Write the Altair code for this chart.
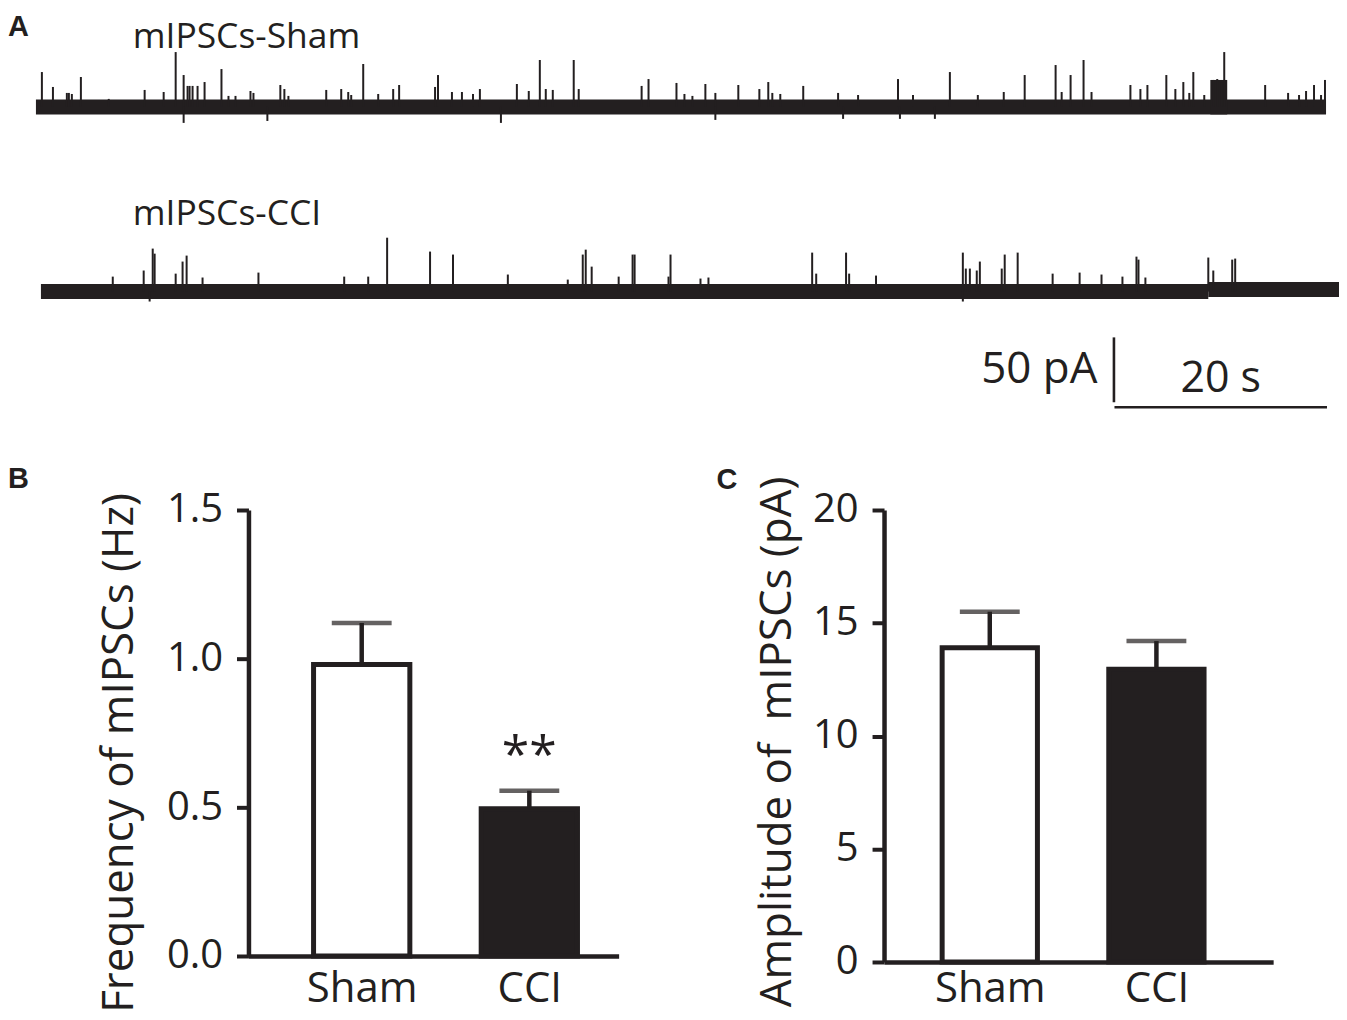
import altair as alt
import pandas as pd

DARK = "#231f20"
FONT = "Open Sans"
LETTER_FONT = "Liberation Sans"

# ---------------- Panel A: trace data (time in s, amplitude in pA) ----------------
# upward events (time s, peak amplitude pA above baseline)
sham_events = [
    (0.56, 26.9), (1.60, 15.4), (2.91, 10.8), (3.10, 10.8), (3.38, 10.0), (4.23, 23.1),
    (6.85, 6.2), (10.23, 13.1), (12.02, 11.5), (13.15, 42.3), (13.90, 24.6), (14.27, 16.2),
    (14.46, 16.2), (14.74, 16.2), (15.21, 16.2), (15.87, 19.2), (17.46, 29.2), (18.12, 8.5),
    (18.78, 8.5), (20.19, 12.3), (20.47, 10.8), (23.00, 16.9), (23.38, 13.8), (23.76, 8.5),
    (27.32, 13.1), (28.73, 13.8), (29.39, 11.5), (29.67, 9.2), (30.80, 33.1), (32.21, 10.0),
    (33.62, 13.8), (34.18, 16.9), (37.56, 15.4), (37.84, 24.6), (39.15, 11.5), (40.09, 11.5),
    (41.13, 10.0), (41.78, 13.8), (45.26, 17.7), (46.38, 12.3), (47.42, 36.2), (47.98, 13.8),
    (48.64, 13.1), (50.61, 36.2), (51.08, 13.8), (57.00, 16.2), (57.65, 21.5), (60.28, 18.5),
    (61.03, 10.0), (61.78, 8.5), (63.00, 17.7), (63.94, 10.8), (66.10, 16.9), (68.08, 13.8),
    (68.92, 19.2), (69.30, 10.8), (70.05, 10.0), (72.21, 16.2), (75.49, 10.8), (77.37, 9.2),
    (81.13, 21.5), (82.54, 9.2), (86.01, 26.9), (88.64, 9.2), (91.08, 11.5), (93.05, 24.6),
    (95.96, 32.3), (96.53, 11.5), (97.37, 24.6), (98.59, 36.2), (99.34, 11.5), (103.00, 16.9),
    (103.94, 13.8), (104.60, 16.9), (106.38, 24.6), (107.23, 13.8), (107.98, 19.2), (108.54, 10.8),
    (108.92, 26.9), (109.95, 9.2), (110.80, 20.8), (111.17, 21.5), (111.55, 19.2), (111.83, 42.3),
    (115.68, 16.9), (117.84, 10.8), (118.87, 9.2), (119.53, 12.3), (120.28, 16.9), (120.94, 9.2),
    (121.31, 20.8),
]
# downward deflections (time s, amplitude pA)
sham_dips = [(13.90, -12.3), (21.78, -10.8), (43.76, -12.3), (63.94, -10.0),
             (75.96, -9.2), (81.31, -9.2), (84.60, -9.2)]
sham_span = (0.0, 121.41)
sham_burst = (110.52, 112.11, 20.8)   # start s, end s, upper envelope pA

cci_events = [
    (7.23, 11.5), (10.14, 16.2), (10.99, 33.1), (11.17, 29.2), (13.15, 13.8), (13.80, 23.1),
    (14.18, 27.7), (15.68, 10.8), (20.94, 14.6), (29.01, 11.5), (31.27, 11.5), (33.05, 41.5),
    (37.09, 30.8), (39.25, 28.5), (44.41, 13.1), (50.05, 9.2), (51.46, 28.5), (51.74, 32.3),
    (52.30, 19.2), (54.84, 11.5), (56.15, 28.5), (56.34, 28.5), (59.53, 11.5), (59.72, 28.5),
    (62.54, 10.0), (63.29, 10.8), (73.05, 30.0), (73.43, 13.8), (76.24, 30.0), (76.53, 13.8),
    (79.06, 12.3), (87.23, 30.0), (87.51, 17.7), (87.89, 17.7), (88.54, 16.2), (88.83, 23.1),
    (90.89, 17.7), (91.17, 28.5), (92.39, 30.0), (95.68, 13.8), (98.22, 14.6), (100.28, 13.1),
    (102.25, 11.5), (103.57, 26.9), (103.76, 24.6), (104.41, 10.8), (110.33, 26.2), (110.80, 16.2),
    (112.58, 24.6), (112.86, 25.4),
]
cci_dips = [(10.70, -7.7), (87.23, -7.7)]
cci_segments = [(0.47, 110.33, 0.0), (110.33, 122.63, 1.5)]  # start s, end s, baseline shift pA

NOISE_HALF_PA = 5.8          # half thickness of the baseline noise band
SHAM_BASE, CCI_BASE = 233.8, 91.5   # vertical stacking of the two traces (pA)

# scale bar
SB_PA, SB_S = 50, 20
SB_T, SB_Y = 101.45, 2.3

# ---------------- Panels B & C: summary data ----------------
groups = ["Sham", "CCI"]
freq_mean = [0.98, 0.495]
freq_sem = [0.14, 0.061]
amp_mean = [13.9, 12.95]
amp_sem = [1.6, 1.25]

# ---------------- build tables ----------------
band_rows = [{"t0": sham_span[0], "t1": sham_span[1],
              "lo": SHAM_BASE - NOISE_HALF_PA, "hi": SHAM_BASE + NOISE_HALF_PA},
             {"t0": sham_burst[0], "t1": sham_burst[1],
              "lo": SHAM_BASE - NOISE_HALF_PA, "hi": SHAM_BASE + sham_burst[2]}]
for s, e, d in cci_segments:
    band_rows.append({"t0": s, "t1": e, "lo": CCI_BASE + d - NOISE_HALF_PA,
                      "hi": CCI_BASE + d + NOISE_HALF_PA})
bands = pd.DataFrame(band_rows)

spike_rows = []
for t, a in sham_events + sham_dips:
    spike_rows.append({"t": t, "y0": SHAM_BASE, "y1": SHAM_BASE + a})
for t, a in cci_events + cci_dips:
    spike_rows.append({"t": t, "y0": CCI_BASE, "y1": CCI_BASE + a})
spikes = pd.DataFrame(spike_rows)

xs = alt.Scale(domain=[20.0, 122.63], nice=False, zero=False)
ys = alt.Scale(domain=[0, 309.2], nice=False, zero=False)

band_layer = alt.Chart(bands).mark_rect(color=DARK).encode(
    x=alt.X("t0:Q", scale=xs, axis=None), x2="t1:Q",
    y=alt.Y("lo:Q", scale=ys, axis=None), y2="hi:Q")
spike_layer = alt.Chart(spikes).mark_rule(color=DARK, strokeWidth=2.0).encode(
    x=alt.X("t:Q", scale=xs, axis=None),
    y=alt.Y("y0:Q", scale=ys, axis=None), y2="y1:Q")

trace_titles = pd.DataFrame({"t": [9.11, 9.11], "y": [279.2, 143.1],
                             "label": ["mIPSCs-Sham", "mIPSCs-CCI"]})
title_layer = alt.Chart(trace_titles).mark_text(
    align="left", baseline="alphabetic", font=FONT, fontSize=35.5, color=DARK).encode(
    x=alt.X("t:Q", scale=xs, axis=None), y=alt.Y("y:Q", scale=ys, axis=None), text="label:N")

sb_v = pd.DataFrame({"t": [SB_T], "y0": [SB_Y + 3.85], "y1": [SB_Y + 3.85 + SB_PA]})
sb_h = pd.DataFrame({"t0": [SB_T + 0.05], "t1": [SB_T + 0.05 + SB_S], "y": [SB_Y]})
sbv_layer = alt.Chart(sb_v).mark_rule(color=DARK, strokeWidth=2.6).encode(
    x=alt.X("t:Q", scale=xs, axis=None), y=alt.Y("y0:Q", scale=ys, axis=None), y2="y1:Q")
sbh_layer = alt.Chart(sb_h).mark_rule(color=DARK, strokeWidth=2.6).encode(
    x=alt.X("t0:Q", scale=xs, axis=None), x2="t1:Q", y=alt.Y("y:Q", scale=ys, axis=None))
sb_text_pa = pd.DataFrame({"t": [99.9], "y": [20.8], "label": [f"{SB_PA} pA"]})
sb_text_s = pd.DataFrame({"t": [SB_T + 0.05 + SB_S / 2], "y": [13.8], "label": [f"{SB_S} s"]})
sbt1 = alt.Chart(sb_text_pa).mark_text(align="right", baseline="alphabetic", font=FONT,
                                       fontSize=44, color=DARK).encode(
    x=alt.X("t:Q", scale=xs, axis=None), y=alt.Y("y:Q", scale=ys, axis=None), text="label:N")
sbt2 = alt.Chart(sb_text_s).mark_text(align="center", baseline="alphabetic", font=FONT,
                                      fontSize=43, color=DARK).encode(
    x=alt.X("t:Q", scale=xs, axis=None), y=alt.Y("y:Q", scale=ys, axis=None), text="label:N")

letter = dict(anchor="start", frame="group", font=LETTER_FONT, fontSize=29,
              fontWeight="bold", color=DARK, baseline="alphabetic")

top = alt.layer(band_layer, spike_layer, title_layer, sbv_layer, sbh_layer, sbt1, sbt2).properties(
    width=1093, height=402, title=alt.TitleParams("A", offset=-56, dx=-241, **letter))

# ---------------- bar panels ----------------
label_expr = "[" + ",".join(f"'{g}'" for g in groups) + "][datum.value - 1]"


def bar_panel(mean, sem, dom, ticks, fmt, ytitle, title_x, title_y, xdom, half,
              w, h, xlab_pad, letter_text, letter_dx, letter_off, sig=None):
    df = pd.DataFrame({"group": groups, "pos": list(range(1, len(groups) + 1)),
                       "mean": mean, "sem": sem})
    df["upper"] = df["mean"] + df["sem"]
    df["left"] = df["pos"] - half
    df["right"] = df["pos"] + half
    df["zero"] = 0.0
    xsc = alt.Scale(domain=xdom, nice=False, zero=False)
    ysc = alt.Scale(domain=dom, nice=False, zero=True)
    xax = alt.Axis(title=None, values=[1, 2], labelExpr=label_expr, labelAngle=0,
                   ticks=False, tickSize=0, labelPadding=xlab_pad, labelFontSize=42, grid=False)
    yax = alt.Axis(values=ticks, format=fmt, title=ytitle, titleX=title_x, titleY=title_y,
                   titleBaseline="alphabetic", tickSize=12, labelPadding=14, grid=False)
    base = alt.Chart(df)
    bars = base.mark_bar(stroke=DARK, strokeWidth=5).encode(
        x=alt.X("left:Q", scale=xsc, axis=xax), x2="right:Q",
        y=alt.Y("mean:Q", scale=ysc, axis=yax), y2="zero:Q",
        fill=alt.Fill("group:N", scale=alt.Scale(domain=groups, range=["white", DARK]),
                      legend=None))
    err = base.mark_rule(color=DARK, strokeWidth=4.5).encode(
        x=alt.X("pos:Q", scale=xsc), y=alt.Y("mean:Q", scale=ysc), y2="upper:Q")
    cap = base.mark_tick(color=DARK, orient="horizontal", size=60, thickness=4.5).encode(
        x=alt.X("pos:Q", scale=xsc), y=alt.Y("upper:Q", scale=ysc))
    layers = [bars, err, cap]
    if sig is not None:
        sdf = pd.DataFrame(sig)
        sdf["pos"] = [groups.index(g) + 1 for g in sdf["group"]]
        layers.append(alt.Chart(sdf).mark_text(font=FONT, fontSize=50, color=DARK,
                                               baseline="alphabetic").encode(
            x=alt.X("pos:Q", scale=xsc), y=alt.Y("y:Q", scale=ysc), text="label:N"))
    return alt.layer(*layers).properties(
        width=w, height=h,
        title=alt.TitleParams(letter_text, offset=letter_off, dx=letter_dx, **letter))


panel_b = bar_panel(freq_mean, freq_sem, [0, 1.5], [0, 0.5, 1.0, 1.5], ".1f",
                    "Frequency of mIPSCs (Hz)", -116.5, 243, [0.3244, 2.5327], 0.2872,
                    371, 447, 13, "B", -241, -27,
                    sig=[{"group": "CCI", "y": 0.62, "label": "**"}])
panel_c = bar_panel(amp_mean, amp_sem, [0, 20], [0, 5, 10, 15, 20], "d",
                    "Amplitude of\u00a0 mIPSCs (pA)", -94, 232, [0.3653, 2.7006], 0.2859,
                    390, 453, 7, "C", -168, -42)

bottom = alt.hconcat(panel_b, panel_c, spacing=98)

chart = alt.concat(top, bottom, columns=1, spacing=55, align="each").properties(
    padding=0, background="white"
).configure_view(strokeWidth=0).configure_axis(
    domainColor=DARK, domainWidth=4.5, tickColor=DARK, tickWidth=4,
    labelColor=DARK, labelFont=FONT, labelFontSize=40,
    titleColor=DARK, titleFont=FONT, titleFontSize=44, titleFontWeight="normal")

chart.save("out.html", embed_options={"renderer": "svg", "actions": False})
